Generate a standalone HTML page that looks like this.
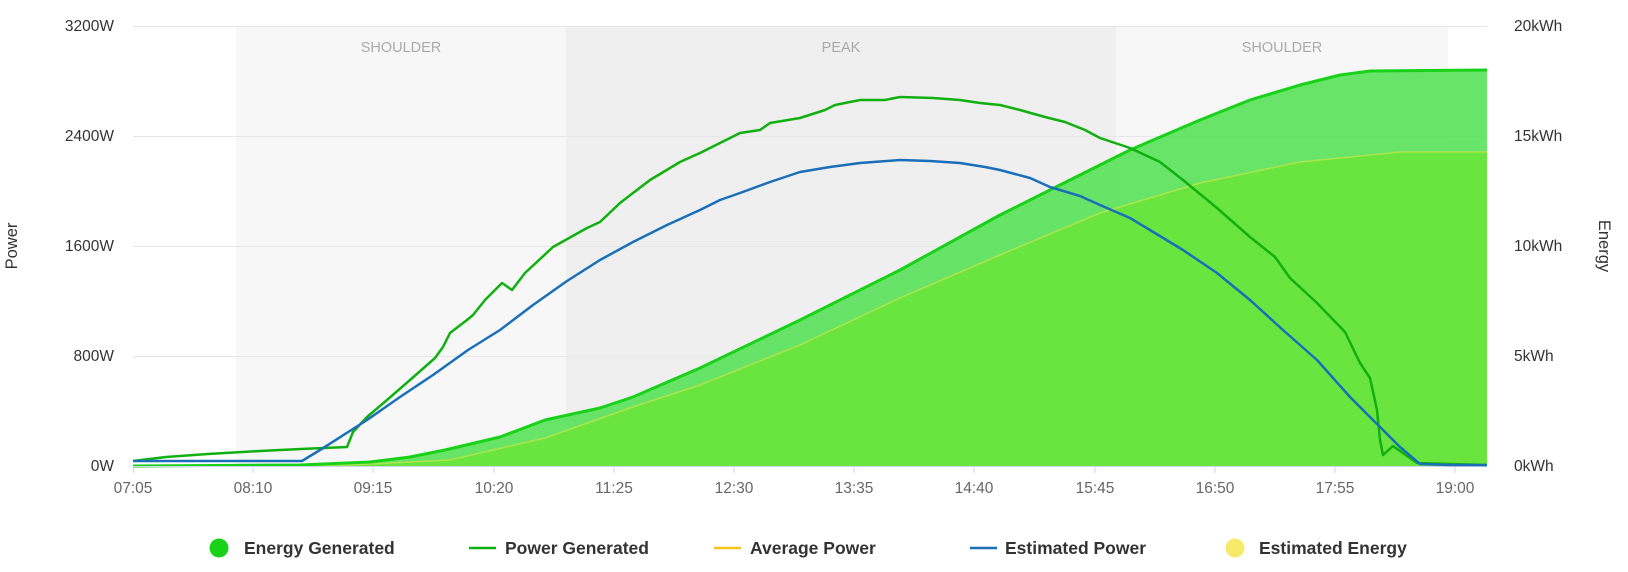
<!DOCTYPE html>
<html><head><meta charset="utf-8"><style>
body{margin:0;background:#fff;}
svg{display:block;font-family:"Liberation Sans",sans-serif;}
</style></head><body>
<svg width="1628" height="572" viewBox="0 0 1628 572">
<rect x="236" y="26" width="330" height="440" fill="#f7f7f7"/>
<rect x="566" y="26" width="550" height="440" fill="#efefef"/>
<rect x="1116" y="26" width="332" height="440" fill="#f7f7f7"/>
<g fill="#aaa" font-size="14.5" text-anchor="middle">
<text x="401" y="52">SHOULDER</text><text x="841" y="52">PEAK</text><text x="1282" y="52">SHOULDER</text></g>
<g stroke="#e6e6e6" stroke-width="1">
<line x1="133" y1="26.5" x2="1487" y2="26.5"/><line x1="133" y1="136.5" x2="1487" y2="136.5"/>
<line x1="133" y1="246.5" x2="1487" y2="246.5"/><line x1="133" y1="356.5" x2="1487" y2="356.5"/></g>
<path d="M133,466 L300,465 370,462 410,457 445,450 500,437 545,420 600,408 633,397 700,368 800,320 900,270 1000,215 1050,190 1130,150 1200,120 1250,100 1300,85 1340,75 1370,71 1487,70 L1487,466 Z" fill="#4fe04f" fill-opacity="0.85"/>
<path d="M133,466 L350,465 450,460 545,438 633,407 700,385 800,345 900,298 1000,255 1100,213 1150,198 1200,183 1300,162 1400,152 1487,152 L1487,466 Z" fill="#6ae43e"/>
<path d="M133,466 L350,465 450,460 545,438 633,407 700,385 800,345 900,298 1000,255 1100,213 1150,198 1200,183 1300,162 1400,152 1487,152" fill="none" stroke="#d8e84a" stroke-width="1.5" stroke-opacity="0.6"/>
<path d="M133,466 L300,465 370,462 410,457 445,450 500,437 545,420 600,408 633,397 700,368 800,320 900,270 1000,215 1050,190 1130,150 1200,120 1250,100 1300,85 1340,75 1370,71 1487,70" fill="none" stroke="#1ad11a" stroke-width="3" stroke-linejoin="round"/>
<line x1="133" y1="466.5" x2="1487" y2="466.5" stroke="#ccd6eb"/>
<g stroke="#ccd6eb"><line x1="133.5" y1="466" x2="133.5" y2="473"/><line x1="253" y1="466" x2="253" y2="473"/><line x1="373" y1="466" x2="373" y2="473"/><line x1="494" y1="466" x2="494" y2="473"/><line x1="614" y1="466" x2="614" y2="473"/><line x1="734" y1="466" x2="734" y2="473"/><line x1="854" y1="466" x2="854" y2="473"/><line x1="974" y1="466" x2="974" y2="473"/><line x1="1095" y1="466" x2="1095" y2="473"/><line x1="1215" y1="466" x2="1215" y2="473"/><line x1="1335" y1="466" x2="1335" y2="473"/><line x1="1455" y1="466" x2="1455" y2="473"/></g>
<path d="M133,461 L166,457 208,454 260,451 301,449 347,447 353,432 367,417 387,400 410,380 435,358 443,347 450,333 467,320 473,315 485,300 502,283 512,290 525,273 553,247 587,228 600,222 620,203 650,180 680,162 700,153 720,143 740,133 760,130 770,123 800,118 825,110 835,105 860,100 885,100 900,97 933,98 960,100 980,103 1000,105 1020,110 1045,117 1065,122 1085,130 1100,138 1130,148 1160,162 1183,180 1217,208 1250,237 1275,257 1290,278 1317,303 1345,332 1360,363 1370,378 1377,410 1380,440 1383,455 1393,446 1417,463 1450,464 1487,465" fill="none" stroke="#11b011" stroke-width="2.5" stroke-linejoin="round"/>
<path d="M133,461 L302,461 320,450 367,420 400,397 433,375 468,350 500,330 533,305 567,281 600,260 633,242 667,225 700,210 720,200 740,193 770,182 800,172 830,167 860,163 900,160 930,161 960,163 985,167 1000,170 1030,178 1050,187 1080,196 1100,205 1130,218 1150,230 1183,250 1217,273 1250,300 1283,330 1317,360 1350,397 1383,430 1400,447 1420,464 1450,465 1487,465" fill="none" stroke="#1a6fb8" stroke-width="2.5" stroke-linejoin="round"/>
<g font-size="15.5" fill="#333" text-anchor="end">
<text x="114" y="31">3200W</text><text x="114" y="141">2400W</text><text x="114" y="251">1600W</text><text x="114" y="361">800W</text><text x="114" y="471">0W</text></g>
<g font-size="15.5" fill="#333">
<text x="1514" y="31">20kWh</text><text x="1514" y="141">15kWh</text><text x="1514" y="251">10kWh</text><text x="1514" y="361">5kWh</text><text x="1514" y="471">0kWh</text></g>
<text transform="translate(17,246) rotate(-90)" font-size="16.5" fill="#333" text-anchor="middle">Power</text>
<text transform="translate(1599,246) rotate(90)" font-size="16.5" fill="#333" text-anchor="middle">Energy</text>
<g font-size="15.5" fill="#666" text-anchor="middle">
<text x="133" y="493">07:05</text><text x="253" y="493">08:10</text><text x="373" y="493">09:15</text><text x="494" y="493">10:20</text><text x="614" y="493">11:25</text><text x="734" y="493">12:30</text><text x="854" y="493">13:35</text><text x="974" y="493">14:40</text><text x="1095" y="493">15:45</text><text x="1215" y="493">16:50</text><text x="1335" y="493">17:55</text><text x="1455" y="493">19:00</text></g>
<g font-size="17.5" font-weight="bold" fill="#333">
<circle cx="219" cy="548" r="9.5" fill="#1ad11a"/><text x="244" y="554">Energy Generated</text>
<line x1="469" y1="548" x2="496" y2="548" stroke="#11b011" stroke-width="2.5"/><text x="505" y="554">Power Generated</text>
<line x1="714" y1="548" x2="741" y2="548" stroke="#f5c518" stroke-width="2.5"/><text x="750" y="554">Average Power</text>
<line x1="970" y1="548" x2="997" y2="548" stroke="#1a6fb8" stroke-width="2.5"/><text x="1005" y="554">Estimated Power</text>
<circle cx="1235" cy="548" r="9.5" fill="#f7e96a"/><text x="1259" y="554">Estimated Energy</text></g>
</svg>
</body></html>
